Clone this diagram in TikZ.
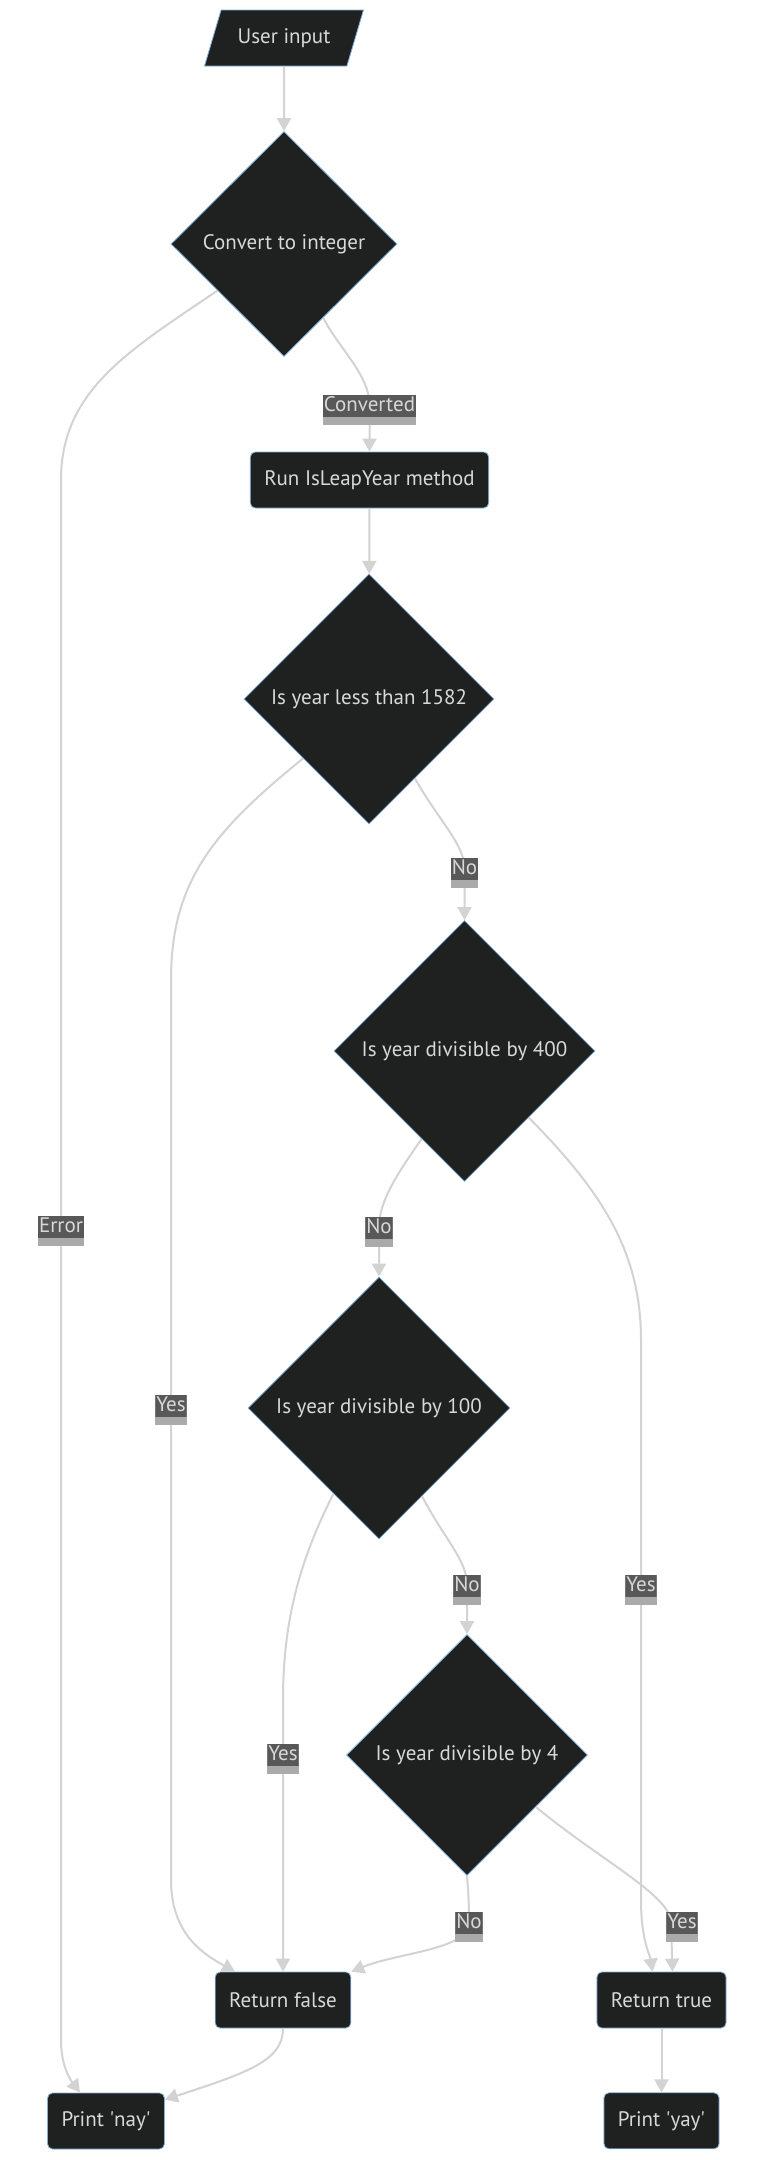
\documentclass[tikz,border=0pt]{standalone}
\usepackage{fontspec}
\setmainfont{PT Sans}
\usetikzlibrary{arrows.meta,positioning,shapes.geometric}
\definecolor{nodefill}{HTML}{1F2020}
\definecolor{nodeline}{HTML}{81B1DB}
\definecolor{nodetext}{HTML}{D8D8D8}
\definecolor{edgecol}{HTML}{D3D3D3}
\definecolor{lbldark}{HTML}{585858}
\definecolor{lblband}{HTML}{AAAAAA}

\begin{document}
\begin{tikzpicture}[
  x=1pt, y=-1pt,
  font=\fontsize{21}{25}\selectfont,
  base/.style={draw=nodeline, line width=0.8pt, fill=nodefill, text=nodetext},
  io/.style={base, trapezium, trapezium left angle=63, trapezium right angle=117, trapezium stretches=true, minimum width=159pt, minimum height=56pt},
  dec/.style={base, diamond, inner sep=0pt},
  box/.style={base, rounded corners=5pt, minimum height=56pt, inner xsep=14pt},
  lbl/.style={fill=lblband, text=nodetext, inner xsep=1pt, inner ysep=0pt, text height=16pt, text depth=14pt, yshift=-5pt,
    path picture={\fill[lbldark] (path picture bounding box.north west) rectangle ([yshift=8pt]path picture bounding box.south east);}},
  arrow/.style={-{Triangle[length=13pt,width=14pt]}, draw=edgecol, line width=2pt}
]
\fill[white] (0,0) rectangle (780,2160);
\useasboundingbox (0,0) rectangle (780,2160);

\node[io] (inp) at (284,38) {User input};
\node[dec, minimum width=226pt, minimum height=225pt] (conv) at (284,244) {Convert to integer};
\node[box] (run) at (369.5,480) {Run IsLeapYear method};
\node[dec, minimum size=250pt] (dec1582) at (369,699) {Is year less than 1582};
\node[dec, minimum size=261pt] (dec400) at (464.5,1051) {Is year divisible by 400};
\node[dec, minimum size=262pt] (dec100) at (379,1408) {Is year divisible by 100};
\node[dec, minimum size=241pt] (dec4) at (467,1755) {Is year divisible by 4};
\node[box] (rfalse) at (283,2000) {Return false};
\node[box] (rtrue) at (661.5,2000) {Return true};
\node[box] (nay) at (106,2121) {Print \textquotesingle nay\textquotesingle};
\node[box, below=64pt of rtrue] (yay) {Print \textquotesingle yay\textquotesingle};

\draw[arrow] (inp) -- (conv);
\draw[arrow] (conv.-62) .. controls (340,350) and (369.5,375) .. (369.5,405) node[lbl] {Converted} -- (run.north);
\draw[arrow] (conv.215) .. controls (130,350) and (61,390) .. (61,480) -- (61,1226) node[lbl] {Error} -- (61,2040) .. controls (61,2068) and (72,2082) .. ([xshift=-26pt]nay.north);
\draw[arrow] (run) -- (dec1582);
\draw[arrow] (dec1582.222) .. controls (215,830) and (171,880) .. (171,980) -- (171,1405) node[lbl] {Yes} -- (171,1880) .. controls (171,1935) and (205,1955) .. ([xshift=-48pt]rfalse.north);
\draw[arrow] (dec1582.-60) .. controls (440,822) and (464.5,845) .. (464.5,868) node[lbl] {No} -- (dec400.north);
\draw[arrow] (dec400.244) .. controls (400,1170) and (379,1200) .. (379,1227) node[lbl] {No} -- (dec100.north);
\draw[arrow] (dec400.-46) .. controls (600,1190) and (641,1250) .. (641,1340) -- (641,1585) node[lbl] {Yes} -- (641,1900) .. controls (641,1940) and (650,1955) .. ([xshift=-9pt]rtrue.north);
\draw[arrow] (dec100.242) .. controls (300,1560) and (283,1620) .. (283,1700) -- (283,1754) node[lbl] {Yes} -- (rfalse.north);
\draw[arrow] (dec100.-64) .. controls (445,1540) and (467,1560) .. (467,1585) node[lbl] {No} -- (dec4.north);
\draw[arrow] (dec4.south) .. controls (469,1900) and (469,1910) .. (469,1922) node[lbl] {No} .. controls (469,1950) and (400,1952) .. (rfalse.north east);
\draw[arrow] (dec4.-37) .. controls (600,1860) and (670,1895) .. (671,1922) node[lbl, xshift=11pt] {Yes} -- ([xshift=11pt]rtrue.north);
\draw[arrow] (rfalse.south) .. controls (283,2060) and (250,2072) .. ([yshift=-7pt]nay.north east);
\draw[arrow] (rtrue) -- (yay);
\end{tikzpicture}
\end{document}
